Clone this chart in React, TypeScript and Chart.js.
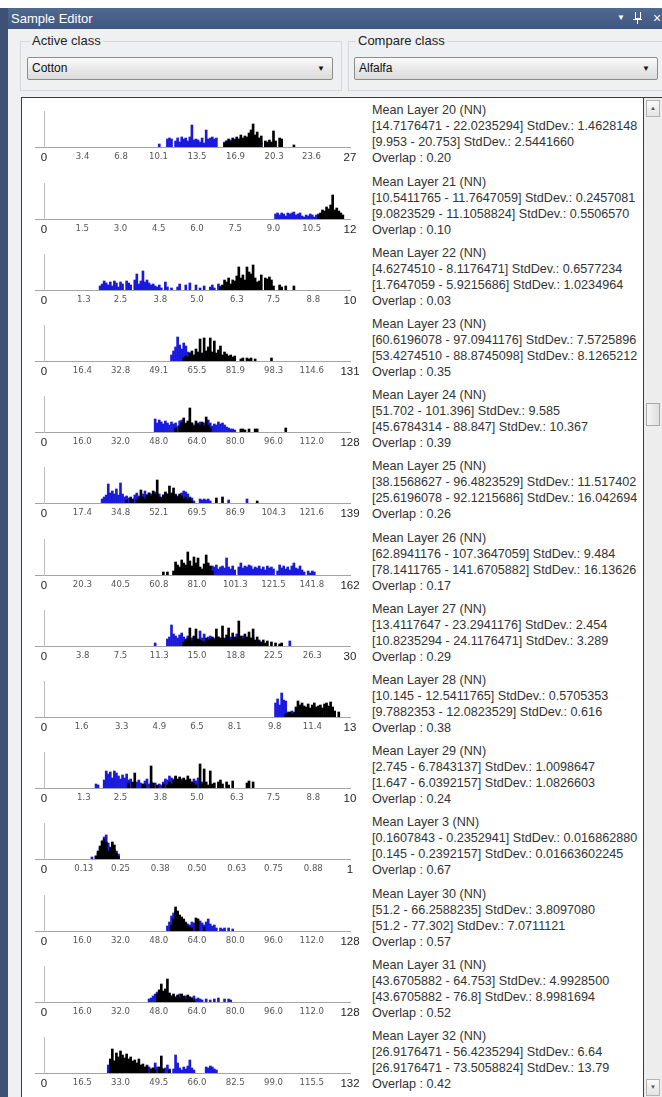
import React, { useEffect, useRef } from "react";
import { Chart, registerables } from "chart.js";

Chart.register(...registerables);

// ---------- histogram layout ----------
const BINS = 150;
const BLUE = "#1a1ade";
const BLACK = "#000000";

// ---------- classes ----------
const ACTIVE_CLASS = "Cotton";
const COMPARE_CLASS = "Alfalfa";

// ---------- text column ----------
const LAYERS = [
  "Mean Layer 20 (NN)", "Mean Layer 21 (NN)", "Mean Layer 22 (NN)", "Mean Layer 23 (NN)",
  "Mean Layer 24 (NN)", "Mean Layer 25 (NN)", "Mean Layer 26 (NN)", "Mean Layer 27 (NN)",
  "Mean Layer 28 (NN)", "Mean Layer 29 (NN)", "Mean Layer 3 (NN)", "Mean Layer 30 (NN)",
  "Mean Layer 31 (NN)", "Mean Layer 32 (NN)",
];
const ACTIVE_STATS = [
  "[14.7176471 - 22.0235294] StdDev.: 1.4628148",
  "[10.5411765 - 11.7647059] StdDev.: 0.2457081",
  "[4.6274510 - 8.1176471] StdDev.: 0.6577234",
  "[60.6196078 - 97.0941176] StdDev.: 7.5725896",
  "[51.702 - 101.396] StdDev.: 9.585",
  "[38.1568627 - 96.4823529] StdDev.: 11.517402",
  "[62.8941176 - 107.3647059] StdDev.: 9.484",
  "[13.4117647 - 23.2941176] StdDev.: 2.454",
  "[10.145 - 12.5411765] StdDev.: 0.5705353",
  "[2.745 - 6.7843137] StdDev.: 1.0098647",
  "[0.1607843 - 0.2352941] StdDev.: 0.016862880",
  "[51.2 - 66.2588235] StdDev.: 3.8097080",
  "[43.6705882 - 64.753] StdDev.: 4.9928500",
  "[26.9176471 - 56.4235294] StdDev.: 6.64",
];
const COMPARE_STATS = [
  "[9.953 - 20.753] StdDev.: 2.5441660",
  "[9.0823529 - 11.1058824] StdDev.: 0.5506570",
  "[1.7647059 - 5.9215686] StdDev.: 1.0234964",
  "[53.4274510 - 88.8745098] StdDev.: 8.1265212",
  "[45.6784314 - 88.847] StdDev.: 10.367",
  "[25.6196078 - 92.1215686] StdDev.: 16.042694",
  "[78.1411765 - 141.6705882] StdDev.: 16.13626",
  "[10.8235294 - 24.1176471] StdDev.: 3.289",
  "[9.7882353 - 12.0823529] StdDev.: 0.616",
  "[1.647 - 6.0392157] StdDev.: 1.0826603",
  "[0.145 - 0.2392157] StdDev.: 0.01663602245",
  "[51.2 - 77.302] StdDev.: 7.0711121",
  "[43.6705882 - 76.8] StdDev.: 8.9981694",
  "[26.9176471 - 73.5058824] StdDev.: 13.79",
];
const OVERLAPS = ["0.20", "0.10", "0.03", "0.35", "0.39", "0.26", "0.17", "0.29", "0.38", "0.24", "0.67", "0.57", "0.52", "0.42"];

// ---------- axis ranges and tick labels ----------
const AXIS_MAX = [27, 12, 10, 131, 128, 139, 162, 30, 13, 10, 1, 128, 128, 132];
const TICKS_20 = ["0", "3.4", "6.8", "10.1", "13.5", "16.9", "20.3", "23.6", "27"];
const TICKS_21 = ["0", "1.5", "3.0", "4.5", "6.0", "7.5", "9.0", "10.5", "12"];
const TICKS_22 = ["0", "1.3", "2.5", "3.8", "5.0", "6.3", "7.5", "8.8", "10"];
const TICKS_23 = ["0", "16.4", "32.8", "49.1", "65.5", "81.9", "98.3", "114.6", "131"];
const TICKS_24 = ["0", "16.0", "32.0", "48.0", "64.0", "80.0", "96.0", "112.0", "128"];
const TICKS_25 = ["0", "17.4", "34.8", "52.1", "69.5", "86.9", "104.3", "121.6", "139"];
const TICKS_26 = ["0", "20.3", "40.5", "60.8", "81.0", "101.3", "121.5", "141.8", "162"];
const TICKS_27 = ["0", "3.8", "7.5", "11.3", "15.0", "18.8", "22.5", "26.3", "30"];
const TICKS_28 = ["0", "1.6", "3.3", "4.9", "6.5", "8.1", "9.8", "11.4", "13"];
const TICKS_29 = ["0", "1.3", "2.5", "3.8", "5.0", "6.3", "7.5", "8.8", "10"];
const TICKS_3 = ["0", "0.13", "0.25", "0.38", "0.50", "0.63", "0.75", "0.88", "1"];
const TICKS_30 = ["0", "16.0", "32.0", "48.0", "64.0", "80.0", "96.0", "112.0", "128"];
const TICKS_31 = ["0", "16.0", "32.0", "48.0", "64.0", "80.0", "96.0", "112.0", "128"];
const TICKS_32 = ["0", "16.5", "33.0", "49.5", "66.0", "82.5", "99.0", "115.5", "132"];

// ---------- histogram counts (first bin index + counts per bin, 150 bins per axis) ----------
const BLUE_20_START = 56;
const BLUE_20 = [3,0,0,0,8,9,8,0,6,9, 5,10,8,9,6,10,22,7,8,7, 5,9,4,17,8,9,10,8,9,0, 0,0,5,6,4,7,5,8,6,4, 9,5,6,3,4,5,6,3,4,2, 5];
const BLACK_20_START = 88;
const BLACK_20 = [4,6,8,5,9,7,10,8,12,9, 11,10,14,17,23,12,15,9,11,0, 6,5,7,5,16,6,0,9,8,0, 0,0,0,0,2];

const BLUE_21_START = 113;
const BLUE_21 = [5,6,4,6,5,3,6,5,6,7, 4,5,6,3,2,4,3,5,4,2, 4,5,4,6];
const BLACK_21_START = 134;
const BLACK_21 = [4,6,9,8,12,10,14,24,9,11, 8,6,4];

const BLUE_22_START = 27;
const BLUE_22 = [4,6,9,7,5,8,4,9,7,3, 8,6,0,9,7,5,0,10,16,6, 9,19,8,10,7,5,6,4,3,5, 2,0,8,3,0,2,0,0,3,6, 0,0,5,0,7,0,0,5,0,2, 0,4,0,0,3,5,2,0,6,4];
const BLACK_22_START = 86;
const BLACK_22 = [3,5,10,8,12,6,10,9,14,23, 12,15,10,23,18,16,25,12,8,9, 15,0,12,11,13,10,4,0,0,5, 3,0,4,0,0,0,4];

const BLUE_23_START = 62;
const BLUE_23 = [6,10,14,24,16,12,18,15,9,8, 6,5,7,4,6,5,8,4,6,10, 5,8,4,3,6,2,4,3];
const BLACK_23_START = 68;
const BLACK_23 = [3,5,4,8,10,6,12,9,22,8, 23,10,14,23,9,20,8,11,15,6, 9,7,5,6,4,5,0,0,2,3, 0,3,2,3,0,2,0,0,0,0, 0,0,0,3];

const BLUE_24_START = 54;
const BLUE_24 = [13,9,12,10,8,11,9,7,10,8, 9,6,11,12,7,9,8,10,9,7, 8,9,10,7,9,8,12,9,6,8, 7,10,8,9,7,5,4,3,3,2];
const BLACK_24_START = 64;
const BLACK_24 = [4,0,6,9,14,8,11,24,9,6, 11,8,7,10,6,15,7,4,0,0, 0,0,0,0,0,0,0,0,0,0, 0,0,3,3,2,0,3,0,0,3, 3,0,0,0,0,0,0,0,0,0, 0,0,0,0,4];

const BLUE_25_START = 28;
const BLUE_25 = [4,6,8,19,10,12,9,14,8,20, 9,6,7,5,6,3,8,10,7,6, 9,12,8,10,9,7,11,8,9,6, 8,10,9,7,8,6,9,7,8,10, 12,11,9,6,5,2,0,0,4,3, 4,3,4,2,0,0,0,0,0,0, 0,0,3,0,0,0,0,0,0,0, 0,4];
const BLACK_25_START = 40;
const BLACK_25 = [3,0,5,4,0,3,5,13,6,4, 8,10,7,12,9,23,6,5,8,11, 9,17,10,15,8,6,9,7,4,6, 3,5,2,0, 0,0,0,0,0,0,0,0,0,0, 5,0,0,6, 0,0,0,0,0,0,0,0,0,0,0,0,0,0,0,0, 2];

const BLUE_26_START = 76;
const BLUE_26 = [3,4,6,5,7,6,9,8,10,6, 8,9,7,17,8,6,9,5,0,8, 12,7,9,8,10,9,6,8,7,9, 6,8,5,9,7,8,6,0,4,10, 7,9,6,8,5,9,12,7,6,9, 5,3,0,4,2,4,3];
const BLACK_26_START = 58;
const BLACK_26 = [3,0,3,0,0,4,13,10,8,15, 12,10,23,14,9,18,12,17,8,6, 11,20,12,9,4];

const BLUE_27_START = 54;
const BLUE_27 = [3,0,0,0,0,0,7,9,21,12, 10,8,11,13,9,7,10,6,8,9, 7,6,15,8,12,7,9,10,6,8, 7,9,6,5,8,7,6,9,5,7, 12,6,8,10,5,7,9,6,8,5, 4,6,3,2,0,0,0,0,0,0, 0,0,0,0,0,0,5];
const BLACK_27_START = 68;
const BLACK_27 = [4,6,8,18,5,10,17,7,6,5, 4,8,6,7,9,6,17,9,8,20, 7,11,18,6,13,9,8,25,10,7, 12,9,14,8,17,6,9,5,4,6, 3,5,0,4,0,3,0,2,3];

const BLUE_28_START = 113;
const BLUE_28 = [14,18,12,24,17,16,5,4,6,5, 3,4,2,3];
const BLACK_28_START = 118;
const BLACK_28 = [3,4,5,3,4,10,16,12,14,11, 10,13,9,12,14,10,11,12,9,13, 14,11,15,10,6,0,5];

const BLUE_29_START = 25;
const BLUE_29 = [4,3,0,0,8,17,14,16,10,17, 15,12,9,13,10,14,8,9,0,0, 6,8,5,3,7,9,4,6,2,5, 0,4,3,6,9,8,12,10,9,11, 8,7,9,6,0,8,5,6,9,7, 10,4,6,3];
const BLACK_29_START = 36;
const BLACK_29 = [0,0,0,0,0,5,0,6,15,0, 0,0,4,3,0,0,22,5,0,3, 0,0,4,0,3,6,4,8,12,9, 11,7,10,8,12,9,6,5,3,0, 24,4,19,6,3,17,4,5,0,6, 8,4,0,6,3,0,7,0,0,0, 0,0,0,5,7,0,6];

const BLUE_3_START = 23;
const BLUE_3 = [2,0,3,6,12,18,22,24,16,12, 14,10,8,5];
const BLACK_3_START = 25;
const BLACK_3 = [3,8,13,18,20,17,8,11,17,14, 6,3];

const BLUE_30_START = 60;
const BLUE_30 = [5,9,15,18,20,14,12,10,8,9, 7,6,9,8,7,6,10,8,6,9, 12,7,5,6,3,0,3,2,3,0, 3,0,2];
const BLACK_30_START = 62;
const BLACK_30 = [6,12,24,20,16,14,12,8,5,4, 3,0,13,12,0,0,4];

const BLUE_31_START = 51;
const BLUE_31 = [3,4,6,8,10,12,9,8,10,7, 8,6,7,5,6,8,5,4,6,3, 5,4,6,3,4,3,2,0,3,0, 2,0,3,0,4,0,0,3,0,3, 2];
const BLACK_31_START = 55;
const BLACK_31 = [8,12,18,11,13,23,9,6,8,5, 7,4,8,6,3,7,5,4,2];

const BLUE_32_START = 31;
const BLUE_32 = [8,10,9,12,11,10,9,8,10,9, 7,8,6,8,7,5,6,4,5,8, 6,4,5,10,6,3,0,4,5,8, 4,0,4,18,10,5,3,6,4,7, 13,5,3,0,0,0,0,0,6,5, 7,6,4,3];
const BLACK_32_START = 32;
const BLACK_32 = [14,24,12,20,16,22,18,15,19,14, 16,12,13,10,14,8,9,6,7,0, 4,5,3,0,6,17,4,0,0,3];

const HISTS = [
  { ticks: TICKS_20, blueStart: BLUE_20_START, blue: BLUE_20, blackStart: BLACK_20_START, black: BLACK_20 },
  { ticks: TICKS_21, blueStart: BLUE_21_START, blue: BLUE_21, blackStart: BLACK_21_START, black: BLACK_21 },
  { ticks: TICKS_22, blueStart: BLUE_22_START, blue: BLUE_22, blackStart: BLACK_22_START, black: BLACK_22 },
  { ticks: TICKS_23, blueStart: BLUE_23_START, blue: BLUE_23, blackStart: BLACK_23_START, black: BLACK_23 },
  { ticks: TICKS_24, blueStart: BLUE_24_START, blue: BLUE_24, blackStart: BLACK_24_START, black: BLACK_24 },
  { ticks: TICKS_25, blueStart: BLUE_25_START, blue: BLUE_25, blackStart: BLACK_25_START, black: BLACK_25 },
  { ticks: TICKS_26, blueStart: BLUE_26_START, blue: BLUE_26, blackStart: BLACK_26_START, black: BLACK_26 },
  { ticks: TICKS_27, blueStart: BLUE_27_START, blue: BLUE_27, blackStart: BLACK_27_START, black: BLACK_27 },
  { ticks: TICKS_28, blueStart: BLUE_28_START, blue: BLUE_28, blackStart: BLACK_28_START, black: BLACK_28 },
  { ticks: TICKS_29, blueStart: BLUE_29_START, blue: BLUE_29, blackStart: BLACK_29_START, black: BLACK_29 },
  { ticks: TICKS_3, blueStart: BLUE_3_START, blue: BLUE_3, blackStart: BLACK_3_START, black: BLACK_3 },
  { ticks: TICKS_30, blueStart: BLUE_30_START, blue: BLUE_30, blackStart: BLACK_30_START, black: BLACK_30 },
  { ticks: TICKS_31, blueStart: BLUE_31_START, blue: BLUE_31, blackStart: BLACK_31_START, black: BLACK_31 },
  { ticks: TICKS_32, blueStart: BLUE_32_START, blue: BLUE_32, blackStart: BLACK_32_START, black: BLACK_32 },
];

const ROW_FIRST_BASE = 147.3;
const ROW_STEP = 71.2;

type HistProps = {
  max: number;
  ticks: string[];
  blueStart: number;
  blue: number[];
  blackStart: number;
  black: number[];
  top: number;
};

function Histogram({ max, ticks, blueStart, blue, blackStart, black, top }: HistProps) {
  const ref = useRef<HTMLCanvasElement | null>(null);
  useEffect(() => {
    if (!ref.current) return;
    const toPts = (arr: number[], start: number) =>
      arr
        .map((h, i) => ({ x: ((start + i + 0.5) * max) / BINS, y: h }))
        .filter((p) => p.y > 0);
    const tickValues = ticks.map(Number);
    const chart = new Chart(ref.current, {
      type: "bar",
      data: {
        datasets: [
          {
            label: ACTIVE_CLASS,
            data: toPts(black, blackStart) as any,
            backgroundColor: BLACK,
            borderWidth: 0,
            barThickness: 2,
            grouped: false,
            order: 0,
          } as any,
          {
            label: COMPARE_CLASS,
            data: toPts(blue, blueStart) as any,
            backgroundColor: BLUE,
            borderWidth: 0,
            barThickness: 2,
            grouped: false,
            order: 1,
          } as any,
        ],
      },
      options: {
        animation: false,
        responsive: false,
        maintainAspectRatio: false,
        events: [],
        layout: { padding: { left: 10, right: 20, top: 4, bottom: 0 } },
        plugins: { legend: { display: false }, tooltip: { enabled: false } },
        scales: {
          x: {
            type: "linear",
            offset: false,
            bounds: "data",
            min: (-max * 9) / 306,
            max: max,
            grid: { display: false, drawTicks: false, offset: false },
            border: { display: true, color: "#a4a4a4", width: 1 },
            afterBuildTicks: (scale: any) => {
              scale.ticks = tickValues.map((v) => ({ value: v }));
            },
            afterFit: (scale: any) => {
              scale.height = 22;
            },
            ticks: {
              autoSkip: false,
              maxRotation: 0,
              minRotation: 0,
              padding: 4,
              callback: (_v: any, i: number) => ticks[i],
              color: (ctx: any) => (ctx.index === 0 || ctx.index === ticks.length - 1 ? "#1e1e1e" : "#555555"),
              font: (ctx: any) =>
                ctx.index === 0 || ctx.index === ticks.length - 1
                  ? { size: 11.5, family: '"Liberation Sans", Arial, sans-serif' }
                  : { size: 9.5, family: '"Liberation Sans Narrow", "DejaVu Sans Condensed", "Liberation Sans", Arial, sans-serif' },
            },
          } as any,
          y: {
            min: 0,
            max: 36,
            position: { x: 0 } as any,
            grid: { display: false, drawTicks: false },
            border: { display: true, color: "#bdbdbd", width: 1 },
            ticks: { display: false },
          } as any,
        },
      } as any,
    });
    return () => chart.destroy();
  }, []);
  return (
    <canvas
      ref={ref}
      width={345}
      height={62}
      style={{ position: "absolute", left: 25, top, width: 345, height: 62, display: "block" }}
    />
  );
}

function Dropdown({ left, width, text }: { left: number; width: number; text: string }) {
  return (
    <div
      style={{
        position: "absolute",
        left,
        top: 57,
        width,
        height: 23,
        boxSizing: "border-box",
        border: "1px solid #8c8c8c",
        borderRadius: 2,
        background: "linear-gradient(#fbfbfb, #e9e9e9 50%, #dcdcdc)",
        font: '12px "Liberation Sans", Arial, sans-serif',
        color: "#111",
        lineHeight: "21px",
        paddingLeft: 4,
      }}
    >
      {text}
      <span style={{ position: "absolute", right: 7, top: 0, fontSize: 8, color: "#111" }}>▼</span>
    </div>
  );
}

export default function App() {
  return (
    <div
      style={{
        position: "absolute",
        left: 0,
        top: 0,
        width: 662,
        height: 1097,
        overflow: "hidden",
        background: "#ffffff",
        fontFamily: '"Liberation Sans", Arial, sans-serif',
      }}
    >
      {/* left frame strip */}
      <div style={{ position: "absolute", left: 0, top: 8, width: 8, height: 1089, background: "#3d5177" }} />
      {/* title bar */}
      <div
        style={{
          position: "absolute",
          left: 8,
          top: 8,
          width: 654,
          height: 21,
          background: "linear-gradient(#50698f, #3f5781)",
          color: "#ffffff",
          font: '13px "Liberation Sans", Arial, sans-serif',
          lineHeight: "21px",
          paddingLeft: 3,
          boxSizing: "border-box",
        }}
      >
        Sample Editor
      </div>
      <div style={{ position: "absolute", left: 617, top: 13, color: "#fff", fontSize: 8 }}>▼</div>
      <div style={{ position: "absolute", left: 635, top: 12, width: 4, height: 6, border: "1px solid #fff", borderTop: "none" }} />
      <div style={{ position: "absolute", left: 633, top: 19, width: 9, height: 1, background: "#fff" }} />
      <div style={{ position: "absolute", left: 637, top: 20, width: 1, height: 4, background: "#fff" }} />
      <div style={{ position: "absolute", left: 653, top: 10, color: "#fff", fontSize: 14, lineHeight: "16px" }}>×</div>

      {/* control panel */}
      <div style={{ position: "absolute", left: 8, top: 29, width: 654, height: 1068, background: "#eff0f2" }} />
      <div style={{ position: "absolute", left: 20, top: 41, width: 322, height: 50, border: "1px solid #d6d8dc", boxSizing: "border-box" }} />
      <div style={{ position: "absolute", left: 348, top: 41, width: 316, height: 50, border: "1px solid #d6d8dc", boxSizing: "border-box" }} />
      <div style={{ position: "absolute", left: 30, top: 33, padding: "0 2px", background: "#eff0f2", font: '13px "Liberation Sans", Arial, sans-serif', color: "#222", lineHeight: "16px" }}>
        Active class
      </div>
      <div style={{ position: "absolute", left: 356, top: 33, padding: "0 2px", background: "#eff0f2", font: '13px "Liberation Sans", Arial, sans-serif', color: "#222", lineHeight: "16px" }}>
        Compare class
      </div>
      <Dropdown left={27} width={306} text={ACTIVE_CLASS} />
      <Dropdown left={354} width={304} text={COMPARE_CLASS} />

      {/* list box */}
      <div
        style={{
          position: "absolute",
          left: 21,
          top: 97,
          width: 623,
          height: 1002,
          background: "#ffffff",
          border: "1px solid #3c3c3c",
          boxSizing: "border-box",
        }}
      />
      {/* scrollbar */}
      <div style={{ position: "absolute", left: 644, top: 97, width: 18, height: 1000, background: "#ededed", borderTop: "1px solid #3c3c3c", boxSizing: "border-box" }} />
      <div style={{ position: "absolute", left: 646, top: 100, width: 14, height: 17, boxSizing: "border-box", border: "1px solid #b4b4b4", background: "linear-gradient(#fafafa,#e4e4e4)", fontSize: 6, color: "#555", textAlign: "center", lineHeight: "15px" }}>▲</div>
      <div style={{ position: "absolute", left: 646, top: 403, width: 14, height: 23, boxSizing: "border-box", border: "1px solid #a9a9a9", background: "linear-gradient(90deg,#f6f6f6,#dedede)" }} />
      <div style={{ position: "absolute", left: 646, top: 1079, width: 14, height: 17, boxSizing: "border-box", border: "1px solid #b4b4b4", background: "linear-gradient(#fafafa,#e4e4e4)", fontSize: 6, color: "#555", textAlign: "center", lineHeight: "15px" }}>▼</div>

      {/* list contents, clipped to the list box */}
      <div style={{ position: "absolute", left: 0, top: 98, width: 643, height: 999, overflow: "hidden" }}>
        <div style={{ position: "absolute", left: 0, top: -98, width: 643, height: 1097 }}>
          {HISTS.map((h, i) => {
            const base = ROW_FIRST_BASE + ROW_STEP * i;
            return (
              <React.Fragment key={i}>
                <Histogram
                  max={AXIS_MAX[i]}
                  ticks={h.ticks}
                  blueStart={h.blueStart}
                  blue={h.blue}
                  blackStart={h.blackStart}
                  black={h.black}
                  top={Math.round(base - 40)}
                />
                <div
                  style={{
                    position: "absolute",
                    left: 372,
                    top: Math.round(base - 45),
                    font: '12.6px "Liberation Sans", Arial, sans-serif',
                    lineHeight: "16px",
                    color: "#333333",
                    whiteSpace: "nowrap",
                  }}
                >
                  <div>{LAYERS[i]}</div>
                  <div>{ACTIVE_STATS[i]}</div>
                  <div>{COMPARE_STATS[i]}</div>
                  <div>Overlap : {OVERLAPS[i]}</div>
                </div>
              </React.Fragment>
            );
          })}
        </div>
      </div>
    </div>
  );
}
